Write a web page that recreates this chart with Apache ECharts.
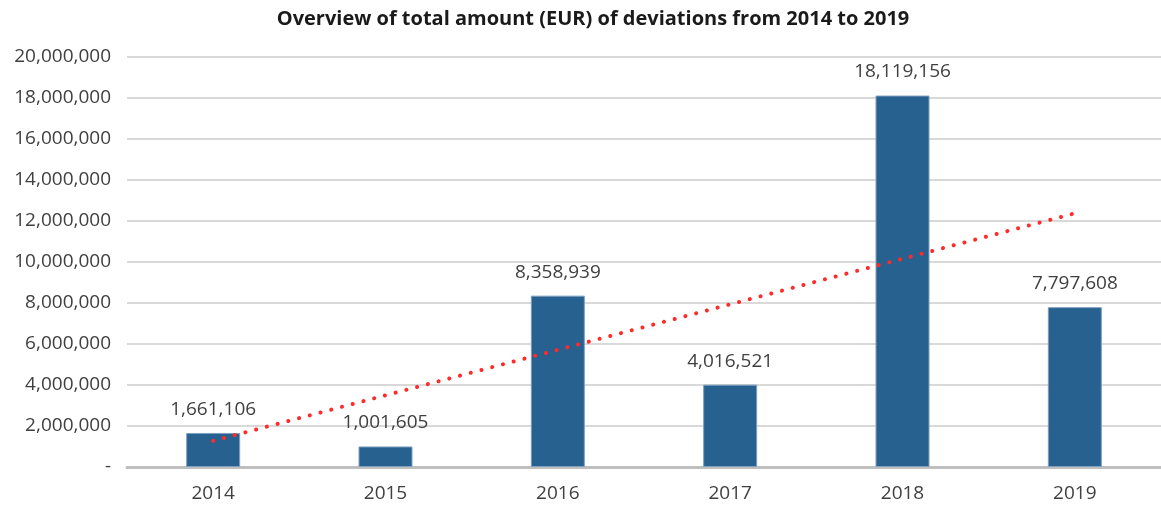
<!DOCTYPE html>
<html>
<head>
<meta charset="utf-8">
<script src="https://cdn.jsdelivr.net/npm/echarts@6/dist/echarts.min.js"></script>
<style>
  html, body { margin: 0; padding: 0; background: #fff; }
  #main { width: 1161px; height: 511px; }
</style>
</head>
<body>
<div id="main"></div>
<script>
// years on the x axis
var years = ['2014', '2015', '2016', '2017', '2018', '2019'];
// total amount of deviations (EUR)
var amounts = [1661106, 1001605, 8358939, 4016521, 18119156, 7797608];
// linear trend
var trend = [1276000, 3496000, 5716000, 7935000, 10155000, 12375000];

var font = 'Open Sans';
var myChart = echarts.init(document.getElementById('main'));

function fmt(v) {
  if (v === 0) return '-';
  return String(v).replace(/\B(?=(\d{3})+(?!\d))/g, ',');
}

myChart.setOption({
  animation: false,
  title: {
    text: 'Overview of total amount (EUR) of deviations from 2014 to 2019',
    left: 588,
    textAlign: 'center',
    top: 4,
    textStyle: { fontFamily: font, fontSize: 20, fontWeight: 'bold', color: '#1a1a1a' }
  },
  grid: { left: 127, right: 0, top: 57, bottom: 44 },
  xAxis: {
    type: 'category',
    data: years,
    axisTick: { show: false },
    axisLine: { lineStyle: { color: '#bfbfbf', width: 3 } },
    axisLabel: { fontFamily: font, fontSize: 19, color: '#404040', margin: 17 }
  },
  yAxis: {
    type: 'value',
    min: 0,
    max: 20000000,
    interval: 2000000,
    axisLine: { show: false },
    axisTick: { show: false },
    splitLine: { lineStyle: { color: '#d9d9d9', width: 2 } },
    axisLabel: { fontFamily: font, fontSize: 19, color: '#404040', margin: 16, formatter: fmt }
  },
  series: [
    {
      name: 'Amount',
      type: 'bar',
      data: amounts,
      barWidth: 54,
      itemStyle: { color: '#266190', borderColor: '#7f9fbf', borderWidth: 1 },
      label: {
        show: true,
        position: 'top',
        distance: 14,
        fontFamily: font,
        fontSize: 19,
        color: '#404040',
        formatter: function (p) { return fmt(p.value); }
      }
    },
    {
      name: 'Trend',
      type: 'line',
      data: trend,
      symbol: 'none',
      z: 5,
      lineStyle: { color: '#ff2a2a', width: 4, type: [0.1, 11], cap: 'round' }
    }
  ]
});
</script>
</body>
</html>
